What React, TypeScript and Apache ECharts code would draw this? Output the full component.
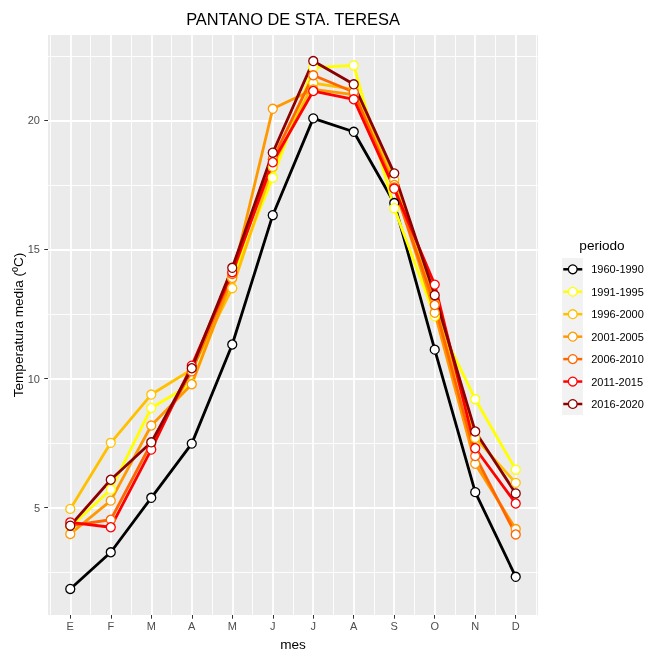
import React, { useEffect, useRef } from 'react';
import * as echarts from 'echarts';

const months = ['E', 'F', 'M', 'A', 'M', 'J', 'J', 'A', 'S', 'O', 'N', 'D'];
const periods = ['1960-1990', '1991-1995', '1996-2000', '2001-2005', '2006-2010', '2011-2015', '2016-2020'];
const colors = ['#000000', '#FFFF00', '#FFC000', '#FF9900', '#FF6600', '#FF0000', '#8B0000'];

const t1960_1990 = [1.85, 3.27, 5.38, 7.48, 11.32, 16.33, 20.08, 19.56, 16.8, 11.12, 5.6, 2.32];
const t1991_1995 = [4.25, 5.7, 8.86, 9.8, 13.9, 17.78, 22.05, 22.13, 16.6, 12.42, 9.2, 6.47];
const t1996_2000 = [4.95, 7.51, 9.38, 10.35, 13.5, 18.2, 21.45, 21.2, 17.7, 12.9, 7.7, 5.96];
const t2001_2005 = [3.98, 5.27, 8.18, 9.78, 13.9, 20.45, 21.2, 21.0, 17.5, 12.55, 6.7, 4.17];
const t2006_2010 = [4.3, 4.53, 7.5, 10.28, 14.05, 18.5, 21.75, 21.1, 17.4, 12.85, 7.0, 3.96];
const t2011_2015 = [4.43, 4.24, 7.25, 10.5, 14.12, 18.38, 21.14, 20.82, 17.36, 13.64, 7.3, 5.16];
const t2016_2020 = [4.3, 6.08, 7.53, 10.4, 14.29, 18.75, 22.3, 21.4, 17.95, 13.23, 7.95, 5.55];

const seriesValues = [t1960_1990, t1991_1995, t1996_2000, t2001_2005, t2006_2010, t2011_2015, t2016_2020];

const xMajor = [1, 2, 3, 4, 5, 6, 7, 8, 9, 10, 11, 12];
const xMinor = [0.5, 1.5, 2.5, 3.5, 4.5, 5.5, 6.5, 7.5, 8.5, 9.5, 10.5, 11.5, 12.5];
const yMajor = [5, 10, 15, 20];
const yMinor = [2.5, 7.5, 12.5, 17.5, 22.5];

const FONT = '"Liberation Sans", Arial, Helvetica, sans-serif';

export default function App() {
  const ref = useRef<HTMLDivElement>(null);
  useEffect(() => {
    if (!ref.current) return;
    const chart = echarts.init(ref.current, null, { renderer: 'svg' });
    const xMin = 0.45, xMax = 12.55, yMin = 0.84, yMax = 23.31;
    const lineSeries = periods.map((p, i) => ({
      type: 'line',
      name: p,
      data: seriesValues[i].map((v, j) => [j + 1, v]),
      symbol: 'circle',
      showSymbol: false,
      silent: true,
      z: 2,
      lineStyle: { color: colors[i], width: 2.8, join: 'round' },
      itemStyle: { color: '#ffffff', borderColor: colors[i], borderWidth: 1.3 },
    }));
    const pointSeries = periods.map((p, i) => ({
      type: 'scatter',
      name: p,
      data: seriesValues[i].map((v, j) => [j + 1, v]),
      symbol: 'circle',
      symbolSize: 9,
      z: 3,
      itemStyle: { color: '#ffffff', borderColor: colors[i], borderWidth: 1.3, opacity: 1 },
    }));
    chart.setOption({
      animation: false,
      textStyle: { fontFamily: FONT },
      grid: {
        left: 48, top: 35, width: 490, height: 580,
        outerBoundsMode: 'none', containLabel: false,
        show: true, backgroundColor: '#EBEBEB', borderWidth: 0,
      },
      xAxis: [
        {
          type: 'value', min: xMin, max: xMax, position: 'bottom',
          axisLine: { show: false },
          axisTick: { show: true, length: 3.7, customValues: xMajor, lineStyle: { color: '#333333', width: 1 } },
          axisLabel: {
            customValues: xMajor, color: '#4D4D4D', fontSize: 11, margin: 5, fontFamily: FONT,
            formatter: (v: number) => months[Math.round(v) - 1] ?? '',
          },
          splitLine: { show: true, lineStyle: { color: '#ffffff', width: 1.8 } },
          name: 'mes', nameLocation: 'middle', nameGap: 22, nameMoveOverlap: false,
          nameTextStyle: { fontSize: 13.6, color: '#000', fontFamily: FONT },
        },
        {
          type: 'value', min: xMin, max: xMax, position: 'bottom',
          axisLine: { show: false },
          axisTick: { show: false, customValues: xMinor },
          axisLabel: { show: false, customValues: xMinor },
          splitLine: { show: true, lineStyle: { color: '#ffffff', width: 0.9 } },
        },
      ],
      yAxis: [
        {
          type: 'value', min: yMin, max: yMax, position: 'left',
          axisLine: { show: false },
          axisTick: { show: true, length: 3.7, customValues: yMajor, lineStyle: { color: '#333333', width: 1 } },
          axisLabel: { customValues: yMajor, color: '#4D4D4D', fontSize: 11, margin: 8, fontFamily: FONT },
          splitLine: { show: true, lineStyle: { color: '#ffffff', width: 1.8 } },
          name: 'Temperatura media (ºC)', nameLocation: 'middle', nameGap: 23, nameMoveOverlap: false,
          nameTextStyle: { fontSize: 13.6, color: '#000', fontFamily: FONT },
        },
        {
          type: 'value', min: yMin, max: yMax, position: 'left',
          axisLine: { show: false },
          axisTick: { show: false, customValues: yMinor },
          axisLabel: { show: false, customValues: yMinor },
          splitLine: { show: true, lineStyle: { color: '#ffffff', width: 0.9 } },
        },
      ],
      legend: {
        orient: 'vertical', left: 562, top: 263.8, padding: 0,
        itemWidth: 19, itemHeight: 11, itemGap: 11.45,
        selectedMode: false,
        textStyle: { fontSize: 11, color: '#000', fontFamily: FONT, padding: [0, 0, 0, 4] },
        data: periods.map((p, i) => ({
          name: p,
          itemStyle: { color: '#ffffff', borderColor: colors[i], borderWidth: 1.3 },
          lineStyle: { color: colors[i], width: 2.5 },
        })),
      },
      graphic: [
        { type: 'rect', z: 0, shape: { x: 562, y: 258, width: 21, height: 157 }, style: { fill: '#F2F2F2' } },
        {
          type: 'text', x: 293, y: 19,
          style: { text: 'PANTANO DE STA. TERESA', textAlign: 'center', textVerticalAlign: 'middle', fontSize: 16.4, fontFamily: FONT, fill: '#000' },
        },
        {
          type: 'text', x: 602, y: 245,
          style: { text: 'periodo', textAlign: 'center', textVerticalAlign: 'middle', fontSize: 13.6, fontFamily: FONT, fill: '#000' },
        },
      ],
      series: [...lineSeries, ...pointSeries],
    });
    return () => chart.dispose();
  }, []);
  return <div ref={ref} style={{ position: 'fixed', left: 0, top: 0, width: 654, height: 650 }} />;
}
